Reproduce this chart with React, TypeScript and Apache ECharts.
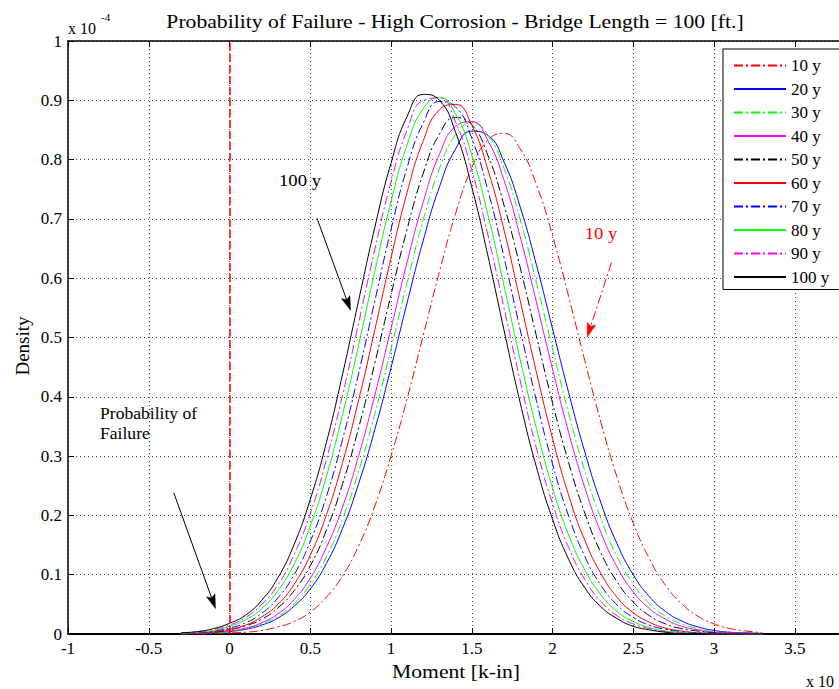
import React, { useEffect, useRef } from "react";
import * as echarts from "echarts";

// Bending moment sample points, in units of 10^4 k-in
const moments = [
  -0.3, -0.2, -0.1, 0.0, 0.1, 0.2, 0.3, 0.4, 0.5, 0.6, 0.7, 0.8, 0.9, 1.0, 1.1, 1.2, 1.3, 1.4, 1.5,
  1.6, 1.7, 1.8, 1.9, 2.0, 2.1, 2.2, 2.3, 2.4, 2.5, 2.6, 2.7, 2.8, 2.9, 3.0, 3.1, 3.2, 3.3,
];

// Resistance-minus-load density (x 10^-4) for each bridge age
const density10y = [0, 0, 0.001, 0.002, 0.003, 0.006, 0.012, 0.021, 0.037, 0.062, 0.098, 0.149, 0.216, 0.300, 0.397, 0.504, 0.611, 0.709, 0.786, 0.833, 0.844, 0.818, 0.758, 0.672, 0.569, 0.461, 0.357, 0.264, 0.187, 0.127, 0.082, 0.051, 0.030, 0.017, 0.009, 0.005, 0.002];
const density20y = [0, 0.001, 0.002, 0.004, 0.008, 0.015, 0.027, 0.047, 0.076, 0.119, 0.178, 0.254, 0.345, 0.449, 0.559, 0.664, 0.754, 0.818, 0.848, 0.841, 0.796, 0.720, 0.623, 0.515, 0.407, 0.307, 0.221, 0.152, 0.100, 0.063, 0.038, 0.022, 0.012, 0.006, 0.003, 0.002, 0.001];
const density30y = [0, 0.001, 0.002, 0.004, 0.009, 0.017, 0.030, 0.051, 0.084, 0.130, 0.194, 0.275, 0.372, 0.481, 0.593, 0.699, 0.785, 0.842, 0.862, 0.842, 0.785, 0.699, 0.593, 0.481, 0.372, 0.275, 0.194, 0.130, 0.084, 0.051, 0.030, 0.017, 0.009, 0.004, 0.002, 0.001, 0];
const density40y = [0.001, 0.001, 0.003, 0.005, 0.010, 0.019, 0.034, 0.058, 0.094, 0.146, 0.214, 0.301, 0.403, 0.515, 0.627, 0.729, 0.809, 0.856, 0.864, 0.832, 0.765, 0.670, 0.560, 0.447, 0.340, 0.247, 0.171, 0.113, 0.071, 0.043, 0.025, 0.013, 0.007, 0.003, 0.002, 0.001, 0];
const density50y = [0.001, 0.002, 0.003, 0.007, 0.014, 0.025, 0.044, 0.073, 0.115, 0.175, 0.253, 0.348, 0.457, 0.572, 0.683, 0.777, 0.843, 0.871, 0.859, 0.807, 0.723, 0.618, 0.503, 0.390, 0.289, 0.204, 0.137, 0.088, 0.054, 0.031, 0.017, 0.009, 0.005, 0.002, 0.001, 0, 0];
const density60y = [0.001, 0.002, 0.004, 0.008, 0.015, 0.029, 0.050, 0.084, 0.133, 0.201, 0.289, 0.395, 0.513, 0.634, 0.745, 0.832, 0.884, 0.893, 0.858, 0.783, 0.681, 0.562, 0.442, 0.330, 0.234, 0.158, 0.102, 0.062, 0.036, 0.020, 0.010, 0.005, 0.002, 0.001, 0, 0, 0];
const density70y = [0.001, 0.002, 0.005, 0.010, 0.019, 0.035, 0.061, 0.100, 0.156, 0.232, 0.328, 0.440, 0.562, 0.682, 0.787, 0.862, 0.898, 0.889, 0.836, 0.748, 0.635, 0.513, 0.394, 0.287, 0.199, 0.131, 0.082, 0.049, 0.028, 0.015, 0.008, 0.004, 0.002, 0.001, 0, 0, 0];
const density80y = [0.001, 0.003, 0.006, 0.013, 0.024, 0.043, 0.073, 0.118, 0.182, 0.266, 0.370, 0.488, 0.612, 0.729, 0.825, 0.886, 0.905, 0.877, 0.808, 0.707, 0.587, 0.463, 0.347, 0.247, 0.167, 0.108, 0.066, 0.038, 0.021, 0.011, 0.005, 0.003, 0.001, 0, 0, 0, 0];
const density90y = [0.002, 0.004, 0.008, 0.015, 0.028, 0.050, 0.083, 0.134, 0.203, 0.294, 0.403, 0.525, 0.649, 0.762, 0.850, 0.900, 0.904, 0.863, 0.782, 0.673, 0.550, 0.427, 0.314, 0.220, 0.146, 0.092, 0.055, 0.031, 0.017, 0.009, 0.004, 0.002, 0.001, 0, 0, 0, 0];
const density100y = [0.002, 0.004, 0.009, 0.018, 0.032, 0.057, 0.095, 0.151, 0.227, 0.323, 0.438, 0.563, 0.686, 0.794, 0.873, 0.910, 0.900, 0.846, 0.754, 0.638, 0.512, 0.390, 0.282, 0.194, 0.126, 0.078, 0.046, 0.026, 0.013, 0.007, 0.003, 0.001, 0.001, 0, 0, 0, 0];

const ageLabels = ["10 y", "20 y", "30 y", "40 y", "50 y", "60 y", "70 y", "80 y", "90 y", "100 y"];
const densities = [density10y, density20y, density30y, density40y, density50y, density60y, density70y, density80y, density90y, density100y];

// Axis ranges and tick steps
const xRange = [-1, 4];
const xStep = 0.5;
const yRange = [0, 1];
const yStep = 0.1;

// Failure threshold (zero moment margin)
const failureThreshold = 0;

// Annotation arrows, in data coordinates [tail, tip]
const arrow100y = [[0.542, 0.701], [0.749, 0.546]];
const arrow10y = [[2.365, 0.626], [2.215, 0.501]];
const arrowFailure = [[-0.345, 0.238], [-0.087, 0.043]];

const FONT = "'Liberation Serif', 'Times New Roman', serif";
const DASHDOT = [9, 3, 2, 3];
const curveStyles = [
  { color: "#ff0000", type: DASHDOT },
  { color: "#0000ff", type: "solid" },
  { color: "#00ff00", type: DASHDOT },
  { color: "#ff00ff", type: "solid" },
  { color: "#000000", type: DASHDOT },
  { color: "#ff0000", type: "solid" },
  { color: "#0000ff", type: DASHDOT },
  { color: "#00ff00", type: "solid" },
  { color: "#ff00ff", type: DASHDOT },
  { color: "#000000", type: "solid" },
];

const text = (x: number, y: number, str: string, size: number, extra: any = {}, style: any = {}) => ({
  type: "text",
  x,
  y,
  silent: true,
  ...extra,
  style: {
    text: str,
    fontFamily: FONT,
    fontSize: size,
    fill: "#000",
    align: "left",
    verticalAlign: "middle",
    ...style,
  },
});

// Tick label text; the last x tick sits past the visible edge and is left blank
const xTickLabel = (v: number) => (v >= 3.75 ? "" : String(Number(v.toFixed(2))));

export default function App() {
  const ref = useRef<HTMLDivElement>(null);

  useEffect(() => {
    if (!ref.current) return;
    const chart = echarts.init(ref.current, undefined, { renderer: "svg" });

    const series: any[] = densities.map((vals, i) => ({
      name: ageLabels[i],
      type: "line",
      data: moments.map((m, j) => [m, vals[j]]),
      symbol: "none",
      showSymbol: false,
      smooth: true,
      clip: true,
      lineStyle: { color: curveStyles[i].color, width: 1, type: curveStyles[i].type },
      itemStyle: { color: curveStyles[i].color },
      z: 3,
    }));

    // red dashed threshold line
    series[0].markLine = {
      silent: true,
      symbol: ["none", "none"],
      label: { show: false },
      lineStyle: { color: "#ff0000", width: 1.5, type: [8, 3] },
      data: [{ xAxis: failureThreshold }],
    };

    const tickStyle = { color: "#000", width: 1 };
    const gridLine = { show: true, lineStyle: { color: "#444", width: 1, type: [1, 3] } };

    chart.setOption({
      animation: false,
      backgroundColor: "#ffffff",
      textStyle: { fontFamily: FONT },
      grid: { left: 68, top: 41, width: 807.5, height: 593, containLabel: false },
      xAxis: [
        {
          type: "value",
          min: xRange[0],
          max: xRange[1],
          interval: xStep,
          position: "bottom",
          axisLine: { show: true, onZero: false, lineStyle: { color: "#000", width: 2 } },
          axisTick: { show: true, inside: true, length: 6, lineStyle: tickStyle },
          axisLabel: { color: "#000", fontFamily: FONT, fontSize: 17, margin: 6, formatter: xTickLabel },
          splitLine: gridLine,
        },
        {
          type: "value",
          min: xRange[0],
          max: xRange[1],
          interval: xStep,
          position: "top",
          axisLine: { show: true, onZero: false, lineStyle: { color: "#000", width: 1.5 } },
          axisTick: { show: true, inside: true, length: 6, lineStyle: tickStyle },
          axisLabel: { show: false },
          splitLine: { show: false },
        },
      ],
      yAxis: [
        {
          type: "value",
          min: yRange[0],
          max: yRange[1],
          interval: yStep,
          axisLine: { show: true, onZero: false, lineStyle: { color: "#000", width: 1.5 } },
          axisTick: { show: true, inside: true, length: 6, lineStyle: tickStyle },
          axisLabel: { color: "#000", fontFamily: FONT, fontSize: 17, margin: 6 },
          splitLine: gridLine,
        },
      ],
      legend: {
        data: ageLabels,
        orient: "vertical",
        left: 723,
        top: 49,
        padding: [8, 24, 4, 10],
        itemWidth: 52,
        itemHeight: 14,
        itemGap: 6.5,
        borderColor: "#000",
        borderWidth: 1,
        borderRadius: 0,
        backgroundColor: "#ffffff",
        itemStyle: { opacity: 0 },
        textStyle: { color: "#000", fontFamily: FONT, fontSize: 17 },
        selectedMode: false,
      },
      series,
    });

    // Annotation layer: texts and arrows placed through the grid's data coordinates
    const toPx = (p: number[]) => chart.convertToPixel({ gridIndex: 0 }, p) as number[];
    const arrowGraphics = (pts: number[][], color: string, dash: any) => {
      const a = toPx(pts[0]);
      const b = toPx(pts[1]);
      const dx = b[0] - a[0];
      const dy = b[1] - a[1];
      const len = Math.hypot(dx, dy);
      const ux = dx / len;
      const uy = dy / len;
      const nx = -uy;
      const ny = ux;
      const L = 14;
      const W = 4.5;
      const base = [b[0] - L * ux, b[1] - L * uy];
      const notch = [b[0] - 0.8 * L * ux, b[1] - 0.8 * L * uy];
      return [
        {
          type: "line",
          silent: true,
          shape: { x1: a[0], y1: a[1], x2: notch[0], y2: notch[1] },
          style: { stroke: color, lineWidth: 1, lineDash: dash },
        },
        {
          type: "polygon",
          silent: true,
          shape: {
            points: [
              b,
              [base[0] + W * nx, base[1] + W * ny],
              notch,
              [base[0] - W * nx, base[1] - W * ny],
            ],
          },
          style: { fill: color, stroke: color, lineWidth: 0.5 },
        },
      ];
    };

    chart.setOption({
      graphic: [
        text(455, 21, "Probability of Failure - High Corrosion - Bridge Length = 100 [ft.]", 19, { scaleX: 1.14 }, { align: "center" }),
        text(456, 671, "Moment [k-in]", 19, { scaleX: 1.14 }, { align: "center" }),
        text(22, 346, "Density", 19, { rotation: Math.PI / 2 }, { align: "center" }),
        text(68, 28, "x 10", 16),
        text(101, 17, "-4", 11),
        text(806, 681, "x 10", 16),
        text(300, 180, "100 y", 17, { scaleX: 1.1 }, { align: "center" }),
        text(601, 233, "10 y", 17, { scaleX: 1.1 }, { align: "center", fill: "#ff0000" }),
        text(100, 424, "Probability of\nFailure", 16, { scaleX: 1.1 }, { lineHeight: 20 }),
        ...arrowGraphics(arrow100y, "#000000", null),
        ...arrowGraphics(arrowFailure, "#000000", null),
        ...arrowGraphics(arrow10y, "#ff0000", DASHDOT),
      ],
    });

    return () => chart.dispose();
  }, []);

  return (
    <div style={{ position: "absolute", left: 0, top: 0, width: 839, height: 689, overflow: "hidden", background: "#fff" }}>
      <div ref={ref} style={{ width: 900, height: 689 }} />
    </div>
  );
}
